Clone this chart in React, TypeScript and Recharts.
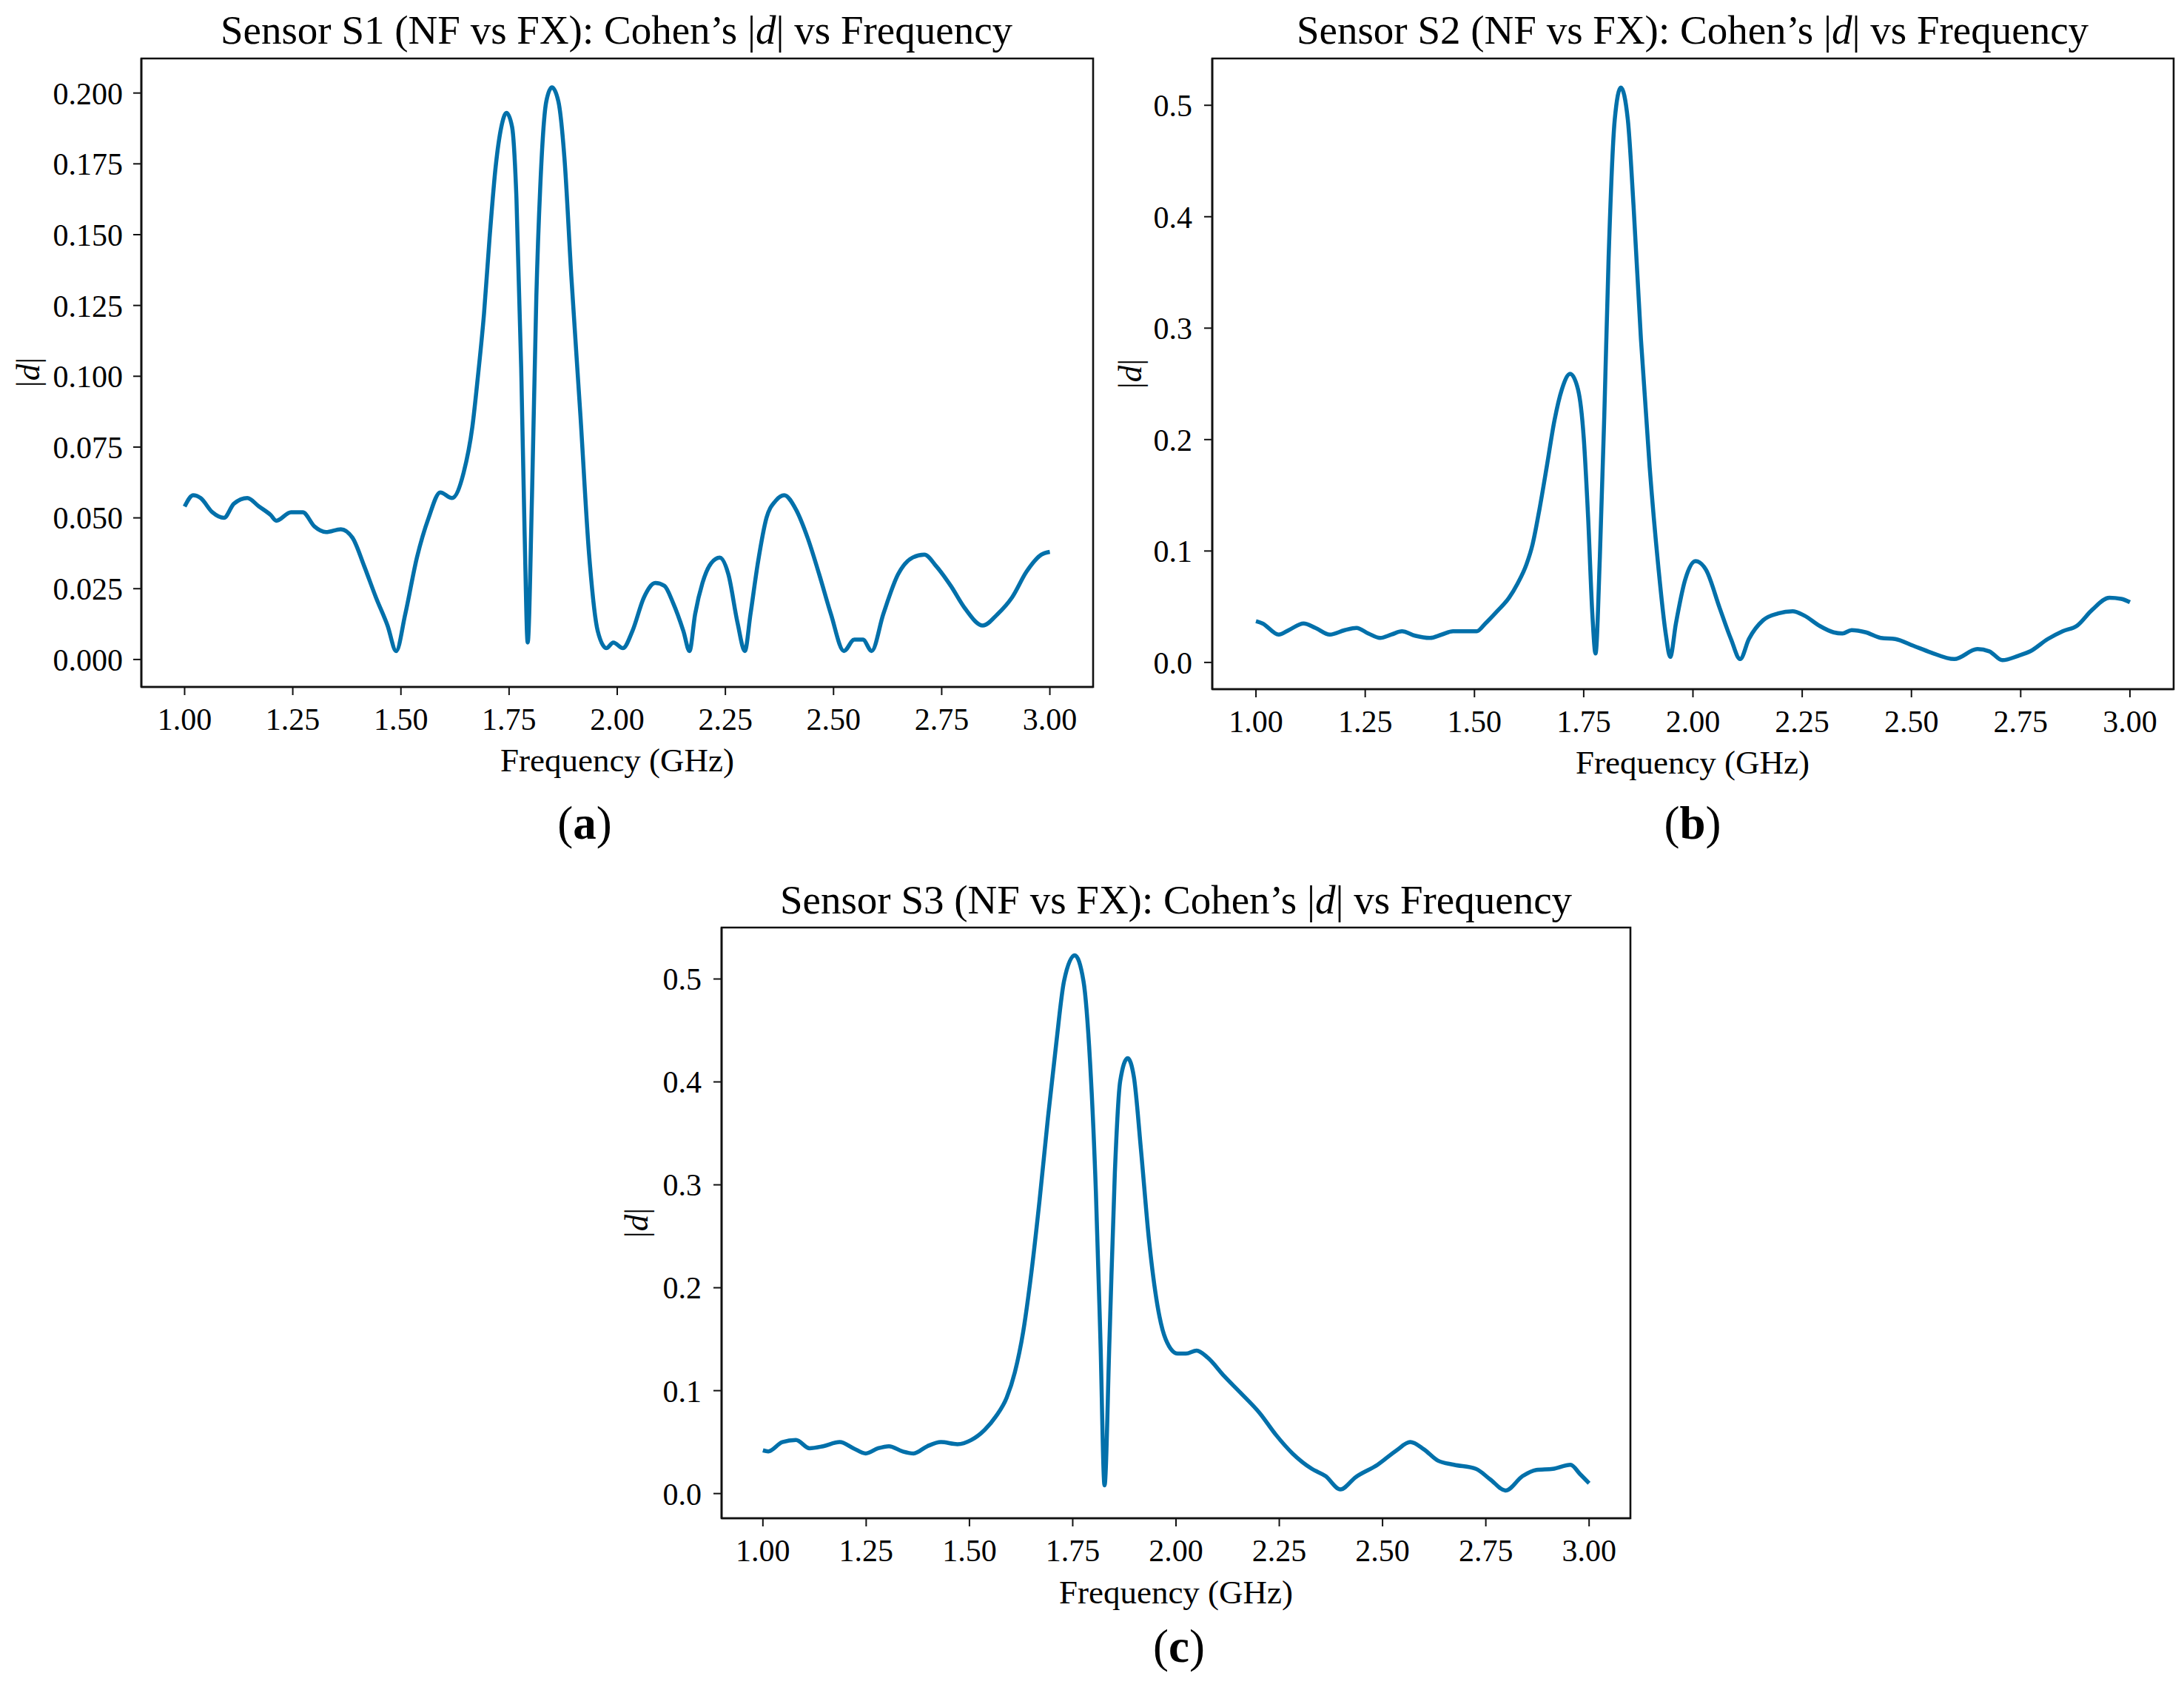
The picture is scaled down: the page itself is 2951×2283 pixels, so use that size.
import { LineChart, Line, XAxis, YAxis, ReferenceArea } from "recharts";

// frequency (GHz) and |d|
const freqA = [1.0, 1.02, 1.037, 1.064, 1.091, 1.114, 1.145, 1.172, 1.199, 1.212, 1.246, 1.273, 1.3, 1.327, 1.361, 1.388, 1.415, 1.442, 1.469, 1.489, 1.51, 1.537, 1.564, 1.591, 1.618, 1.645, 1.665, 1.678, 1.692, 1.705, 1.719, 1.732, 1.744, 1.757, 1.767, 1.778, 1.786, 1.793, 1.803, 1.813, 1.823, 1.836, 1.849, 1.864, 1.878, 1.894, 1.915, 1.935, 1.955, 1.975, 1.991, 2.013, 2.035, 2.062, 2.088, 2.109, 2.129, 2.153, 2.167, 2.18, 2.197, 2.217, 2.237, 2.257, 2.278, 2.295, 2.308, 2.325, 2.345, 2.366, 2.386, 2.413, 2.44, 2.467, 2.494, 2.524, 2.548, 2.568, 2.588, 2.615, 2.649, 2.683, 2.71, 2.737, 2.771, 2.804, 2.845, 2.879, 2.913, 2.946, 2.98, 3.0];
const valsA = [0.054, 0.058, 0.057, 0.052, 0.05, 0.055, 0.057, 0.054, 0.051, 0.049, 0.052, 0.052, 0.047, 0.045, 0.046, 0.043, 0.033, 0.022, 0.012, 0.003, 0.016, 0.036, 0.05, 0.059, 0.057, 0.066, 0.082, 0.1, 0.122, 0.149, 0.174, 0.188, 0.193, 0.188, 0.163, 0.103, 0.044, 0.006, 0.058, 0.128, 0.17, 0.197, 0.202, 0.197, 0.177, 0.135, 0.086, 0.037, 0.01, 0.004, 0.006, 0.004, 0.01, 0.022, 0.027, 0.026, 0.02, 0.01, 0.003, 0.016, 0.027, 0.034, 0.036, 0.03, 0.013, 0.003, 0.016, 0.034, 0.05, 0.056, 0.058, 0.053, 0.043, 0.03, 0.016, 0.003, 0.007, 0.007, 0.003, 0.016, 0.03, 0.036, 0.037, 0.033, 0.026, 0.018, 0.012, 0.016, 0.022, 0.031, 0.037, 0.038];

const freqB = [1.0, 1.015, 1.052, 1.075, 1.109, 1.136, 1.169, 1.203, 1.23, 1.257, 1.284, 1.31, 1.334, 1.364, 1.398, 1.425, 1.451, 1.478, 1.505, 1.525, 1.552, 1.579, 1.599, 1.619, 1.633, 1.649, 1.666, 1.683, 1.7, 1.719, 1.737, 1.75, 1.76, 1.77, 1.777, 1.787, 1.797, 1.807, 1.821, 1.835, 1.851, 1.864, 1.881, 1.901, 1.921, 1.938, 1.948, 1.961, 1.982, 2.006, 2.03, 2.061, 2.087, 2.108, 2.128, 2.161, 2.195, 2.228, 2.255, 2.289, 2.322, 2.342, 2.363, 2.396, 2.43, 2.463, 2.504, 2.544, 2.598, 2.651, 2.678, 2.708, 2.745, 2.772, 2.812, 2.846, 2.879, 2.913, 2.953, 2.98, 3.0];
const valsB = [0.037, 0.035, 0.025, 0.029, 0.035, 0.031, 0.025, 0.029, 0.031, 0.026, 0.022, 0.025, 0.028, 0.024, 0.022, 0.025, 0.028, 0.028, 0.028, 0.035, 0.046, 0.058, 0.071, 0.088, 0.106, 0.138, 0.177, 0.217, 0.245, 0.259, 0.245, 0.202, 0.131, 0.042, 0.008, 0.095, 0.22, 0.363, 0.487, 0.516, 0.487, 0.41, 0.29, 0.175, 0.085, 0.025, 0.005, 0.035, 0.074, 0.091, 0.083, 0.049, 0.021, 0.003, 0.021, 0.038, 0.044, 0.046, 0.042, 0.033, 0.027, 0.026, 0.029, 0.027, 0.022, 0.021, 0.015, 0.009, 0.003, 0.012, 0.01, 0.002, 0.006, 0.01, 0.021, 0.028, 0.033, 0.047, 0.058, 0.057, 0.054];

const freqC = [1.0, 1.013, 1.047, 1.08, 1.113, 1.146, 1.186, 1.219, 1.249, 1.279, 1.305, 1.338, 1.365, 1.398, 1.431, 1.471, 1.504, 1.537, 1.564, 1.59, 1.61, 1.63, 1.65, 1.67, 1.69, 1.71, 1.729, 1.755, 1.776, 1.792, 1.806, 1.817, 1.827, 1.839, 1.852, 1.865, 1.883, 1.898, 1.915, 1.935, 1.955, 1.975, 2.004, 2.024, 2.05, 2.077, 2.117, 2.156, 2.203, 2.242, 2.282, 2.329, 2.362, 2.398, 2.435, 2.488, 2.534, 2.567, 2.6, 2.634, 2.673, 2.726, 2.76, 2.798, 2.839, 2.872, 2.912, 2.955, 2.978, 3.0];
const valsC = [0.042, 0.041, 0.05, 0.052, 0.044, 0.046, 0.05, 0.044, 0.039, 0.044, 0.046, 0.041, 0.039, 0.046, 0.05, 0.048, 0.052, 0.062, 0.075, 0.093, 0.118, 0.157, 0.215, 0.286, 0.365, 0.437, 0.498, 0.523, 0.498, 0.419, 0.294, 0.15, 0.008, 0.15, 0.312, 0.401, 0.423, 0.405, 0.335, 0.245, 0.183, 0.15, 0.136, 0.136, 0.139, 0.132, 0.114, 0.098, 0.078, 0.057, 0.039, 0.024, 0.017, 0.004, 0.016, 0.028, 0.042, 0.05, 0.043, 0.032, 0.028, 0.024, 0.014, 0.003, 0.017, 0.023, 0.024, 0.028, 0.019, 0.01];

const xTicks = [1, 1.25, 1.5, 1.75, 2, 2.25, 2.5, 2.75, 3];
const yTicksA = [0, 0.025, 0.05, 0.075, 0.1, 0.125, 0.15, 0.175, 0.2];
const yTicksBC = [0, 0.1, 0.2, 0.3, 0.4, 0.5];

const LINE = "#0270AA";
const FONT = "Liberation Serif";
const YW = 200;
const XH = 90;
const PAD = 10;

const zip = (xs: number[], ys: number[]) => xs.map((f, i) => ({ f, d: ys[i] }));

type PanelProps = {
  data: { f: number; d: number }[];
  left: number;
  top: number;
  width: number;
  height: number;
  yDomain: [number, number];
  yTicks: number[];
  digits: number;
  margin: number;
};

function Panel({ data, left, top, width, height, yDomain, yTicks, digits, margin }: PanelProps) {
  const tick = { fill: "#000", fontSize: 42, fontFamily: FONT };
  const axisLine = { stroke: "#111", strokeWidth: 2.6 };
  return (
    <div style={{ position: "absolute", left: left - YW, top: top - PAD }}>
      <LineChart
        width={YW + width + PAD}
        height={PAD + height + XH}
        data={data}
        margin={{ top: PAD, right: PAD, bottom: 0, left: 0 }}
      >
        <XAxis
          type="number"
          dataKey="f"
          domain={[0.9, 3.1]}
          ticks={xTicks}
          allowDataOverflow
          tickFormatter={(v: number) => v.toFixed(2)}
          tick={tick}
          axisLine={axisLine}
          tickLine={{ stroke: "#111", strokeWidth: 2 }}
          tickSize={11}
          tickMargin={17}
          height={XH}
        />
        <YAxis
          type="number"
          domain={yDomain}
          ticks={yTicks}
          allowDataOverflow
          tickFormatter={(v: number) => v.toFixed(digits)}
          tick={tick}
          axisLine={axisLine}
          tickLine={{ stroke: "#111", strokeWidth: 2 }}
          tickSize={11}
          tickMargin={margin}
          width={YW}
        />
        <ReferenceArea
          x1={0.9}
          x2={3.1}
          y1={yDomain[0]}
          y2={yDomain[1]}
          fill="none"
          stroke="#111"
          strokeWidth={2.6}
          ifOverflow="visible"
        />
        <Line
          type="monotone"
          dataKey="d"
          stroke={LINE}
          strokeWidth={5.5}
          dot={false}
          isAnimationActive={false}
        />
      </LineChart>
    </div>
  );
}

function Title({ x, y, sensor }: { x: number; y: number; sensor: string }) {
  return (
    <text x={x} y={y} textAnchor="middle" dominantBaseline="central" fontSize={55}>
      Sensor {sensor} (NF vs FX): Cohen’s |<tspan fontStyle="italic">d</tspan>| vs Frequency
    </text>
  );
}

function YLabel({ x, y }: { x: number; y: number }) {
  return (
    <text
      x={x}
      y={y}
      textAnchor="middle"
      dominantBaseline="central"
      fontSize={45}
      transform={`rotate(-90 ${x} ${y})`}
    >
      |<tspan fontStyle="italic">d</tspan>|
    </text>
  );
}

function XLabel({ x, y }: { x: number; y: number }) {
  return (
    <text x={x} y={y} textAnchor="middle" dominantBaseline="central" fontSize={45}>
      Frequency (GHz)
    </text>
  );
}

function Tag({ x, y, letter }: { x: number; y: number; letter: string }) {
  return (
    <text x={x} y={y} textAnchor="middle" dominantBaseline="central" fontSize={63}>
      (<tspan fontWeight="bold">{letter}</tspan>)
    </text>
  );
}

export default function App() {
  return (
    <div
      style={{
        position: "absolute",
        left: 0,
        top: 0,
        width: 2951,
        height: 2283,
        background: "#fff",
        overflow: "hidden",
      }}
    >
      <Panel
        data={zip(freqA, valsA)}
        left={191}
        top={79}
        width={1286}
        height={849}
        yDomain={[-0.0097, 0.2122]}
        yTicks={yTicksA}
        digits={3}
        margin={14}
      />
      <Panel
        data={zip(freqB, valsB)}
        left={1638}
        top={79}
        width={1299}
        height={852}
        yDomain={[-0.024, 0.542]}
        yTicks={yTicksBC}
        digits={1}
        margin={16}
      />
      <Panel
        data={zip(freqC, valsC)}
        left={975}
        top={1253}
        width={1228}
        height={798}
        yDomain={[-0.024, 0.55]}
        yTicks={yTicksBC}
        digits={1}
        margin={16}
      />
      <svg
        width={2951}
        height={2283}
        style={{ position: "absolute", left: 0, top: 0, pointerEvents: "none" }}
        fontFamily={FONT}
        fill="#000"
      >
        <Title x={833} y={40} sensor="S1" />
        <Title x={2287} y={40} sensor="S2" />
        <Title x={1589} y={1215} sensor="S3" />
        <XLabel x={834} y={1027} />
        <XLabel x={2287} y={1030} />
        <XLabel x={1589} y={2151} />
        <YLabel x={38} y={503} />
        <YLabel x={1527} y={505} />
        <YLabel x={860} y={1652} />
        <Tag x={790} y={1112} letter="a" />
        <Tag x={2287} y={1112} letter="b" />
        <Tag x={1593} y={2224} letter="c" />
      </svg>
    </div>
  );
}
